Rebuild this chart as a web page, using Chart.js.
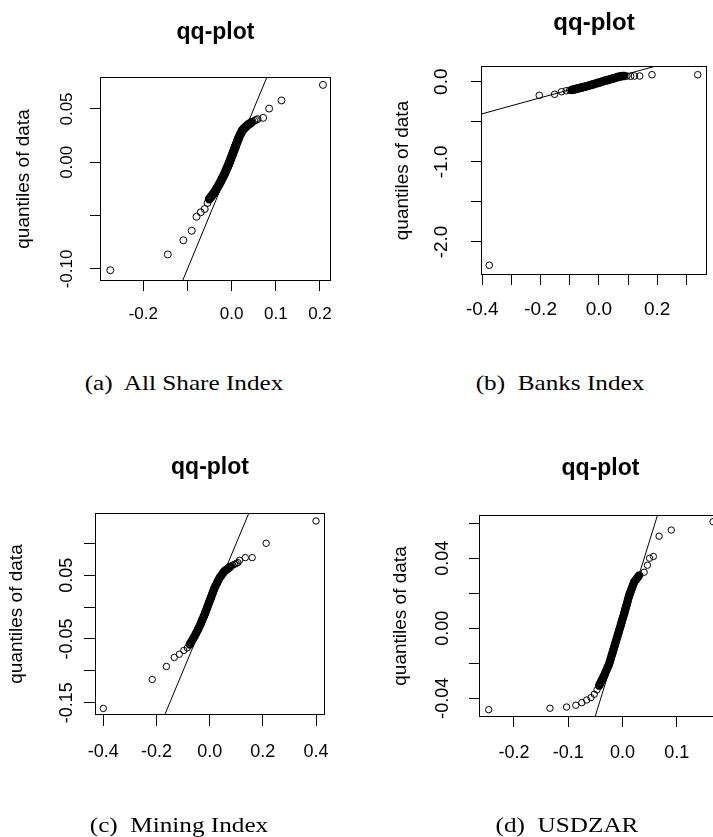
<!doctype html>
<html lang="en">
<head>
  <meta charset="utf-8">
  <title>qq-plots</title>
  <script src="https://cdn.jsdelivr.net/npm/chart.js"></script>
  <style>
    html, body { margin: 0; padding: 0; background: #fff; }
    body { width: 713px; height: 837px; position: relative; overflow: hidden; }
    canvas { position: absolute; }
    .cap {
      position: absolute; width: 300px; text-align: center; white-space: pre;
      font-family: "Liberation Serif", "DejaVu Serif", serif; font-size: 21px; line-height: 24px; color: #000;
      transform: scaleX(1.2); transform-origin: 50% 50%;
    }
  </style>
</head>
<body>

<canvas id="qqA" width="360" height="345" style="left:0px; top:0px;"></canvas>
<canvas id="qqB" width="353" height="345" style="left:360px; top:0px;"></canvas>
<canvas id="qqC" width="360" height="417" style="left:0px; top:420px;"></canvas>
<canvas id="qqD" width="370" height="417" style="left:360px; top:420px;"></canvas>

<div class="cap" style="left:34px; top:371px;">(a)  All Share Index</div>
<div class="cap" style="left:410px; top:371px;">(b)  Banks Index</div>
<div class="cap" style="left:29px; top:813px;">(c)  Mining Index</div>
<div class="cap" style="left:417px; top:813px;">(d)  USDZAR</div>

<script>
  const sansFont = "'Liberation Sans', Arial, sans-serif";

  // reference line y = x (clipped to each plot box)
  const refLine = [-3, 3];

  // (a) All Share Index
  const allShareXTicks = [-0.2, -0.1, 0, 0.1, 0.2];
  const allShareXLabels = ['-0.2', '', '0.0', '0.1', '0.2'];
  const allShareYTicks = [-0.1, -0.05, 0, 0.05];
  const allShareYLabels = ['-0.10', '', '0.00', '0.05'];
  // sparse points in the tails
  const allShareTail = [
    [-0.2747, -0.1012], [-0.1445, -0.0864], [-0.1093, -0.0731], [-0.0903, -0.0642],
    [-0.0795, -0.0510], [-0.0700, -0.0469], [-0.0610, -0.0438], [-0.0545, -0.0380],
    [0.0474, 0.0380], [0.0512, 0.0388], [0.0549, 0.0397], [0.0587, 0.0405],
    [0.0713, 0.0417], [0.0849, 0.0504], [0.1129, 0.0580], [0.2068, 0.0726]
  ];
  // heavily overplotted middle of the distribution
  const allShareCore = [
    [-0.0506, -0.0345], [-0.0484, -0.0333], [-0.0461, -0.0320], [-0.0438, -0.0308], [-0.0416, -0.0296],
    [-0.0393, -0.0283], [-0.0370, -0.0268], [-0.0348, -0.0252], [-0.0325, -0.0237], [-0.0303, -0.0221],
    [-0.0280, -0.0206], [-0.0261, -0.0191], [-0.0242, -0.0176], [-0.0224, -0.0160], [-0.0205, -0.0145], [-0.0186, -0.0130],
    [-0.0167, -0.0114], [-0.0151, -0.0099], [-0.0135, -0.0083], [-0.0119, -0.0068], [-0.0102, -0.0052], [-0.0086, -0.0037], [-0.0070, -0.0021],
    [-0.0054, -0.0006], [-0.0040, 0.0010], [-0.0026, 0.0025], [-0.0012, 0.0041], [0.0003, 0.0056], [0.0017, 0.0072], [0.0031, 0.0087], [0.0045, 0.0103],
    [0.0059, 0.0118], [0.0073, 0.0133], [0.0087, 0.0149], [0.0101, 0.0164], [0.0115, 0.0180], [0.0130, 0.0195], [0.0144, 0.0210], [0.0158, 0.0226],
    [0.0172, 0.0241], [0.0191, 0.0257], [0.0210, 0.0272], [0.0229, 0.0288],
    [0.0248, 0.0303], [0.0276, 0.0315], [0.0305, 0.0326], [0.0333, 0.0338],
    [0.0361, 0.0349], [0.0399, 0.0359], [0.0436, 0.0370]
  ];

  // (b) Banks Index
  const banksXTicks = [-0.4, -0.3, -0.2, -0.1, 0, 0.1, 0.2, 0.3];
  const banksXLabels = ['-0.4', '', '-0.2', '', '0.0', '', '0.2', ''];
  const banksYTicks = [-2, -1.5, -1, -0.5, 0];
  const banksYLabels = ['-2.0', '', '-1.0', '', '0.0'];
  const banksTail = [
    [-0.376, -2.29], [-0.2045, -0.170], [-0.152, -0.157], [-0.128, -0.125], [-0.112, -0.113], [-0.100, -0.106],
    [0.096, 0.071], [0.109, 0.068], [0.122, 0.071], [0.140, 0.071], [0.182, 0.087], [0.339, 0.087]
  ];
  const banksCore = [
    [-0.093, -0.104], [-0.088, -0.099], [-0.083, -0.095], [-0.078, -0.090], [-0.073, -0.085], [-0.068, -0.081],
    [-0.063, -0.076], [-0.058, -0.071], [-0.053, -0.067], [-0.048, -0.062], [-0.043, -0.057], [-0.038, -0.053],
    [-0.033, -0.048], [-0.028, -0.042], [-0.023, -0.037], [-0.018, -0.031], [-0.013, -0.026], [-0.008, -0.020],
    [-0.003, -0.015], [0.002, -0.009], [0.007, -0.004], [0.012, 0.002], [0.017, 0.008],
    [0.022, 0.013], [0.027, 0.018], [0.032, 0.023], [0.037, 0.028], [0.042, 0.034], [0.047, 0.039],
    [0.052, 0.044], [0.057, 0.049], [0.062, 0.055], [0.067, 0.060], [0.072, 0.065], [0.077, 0.069],
    [0.082, 0.071], [0.087, 0.072]
  ];

  // (c) Mining Index
  const miningXTicks = [-0.4, -0.2, 0, 0.2, 0.4];
  const miningXLabels = ['-0.4', '-0.2', '0.0', '0.2', '0.4'];
  const miningYTicks = [-0.15, -0.1, -0.05, 0, 0.05, 0.1];
  const miningYLabels = ['-0.15', '', '-0.05', '', '0.05', ''];
  const miningTail = [
    [-0.400, -0.159], [-0.216, -0.1136], [-0.1625, -0.0932], [-0.133, -0.079], [-0.114, -0.074], [-0.097, -0.068], [-0.084, -0.064],
    [0.0815, 0.0645], [0.0876, 0.0658], [0.0938, 0.0671], [0.0999, 0.0684], [0.1060, 0.0697],
    [0.1125, 0.0733], [0.134, 0.0775], [0.160, 0.0775], [0.2125, 0.100], [0.400, 0.135]
  ];
  const miningCore = [
    [-0.0750, -0.0587], [-0.0713, -0.0561], [-0.0676, -0.0535], [-0.0638, -0.0508], [-0.0601, -0.0482],
    [-0.0564, -0.0456], [-0.0533, -0.0430], [-0.0501, -0.0404], [-0.0470, -0.0378], [-0.0439, -0.0351], [-0.0407, -0.0325],
    [-0.0376, -0.0299], [-0.0349, -0.0273], [-0.0322, -0.0246], [-0.0295, -0.0220], [-0.0269, -0.0194], [-0.0242, -0.0167], [-0.0215, -0.0141],
    [-0.0188, -0.0115], [-0.0165, -0.0089], [-0.0141, -0.0063], [-0.0118, -0.0037], [-0.0094, -0.0011], [-0.0071, 0.0016], [-0.0047, 0.0042], [-0.0024, 0.0068],
    [0.0000, 0.0094], [0.0024, 0.0120], [0.0047, 0.0147], [0.0071, 0.0173], [0.0094, 0.0199], [0.0118, 0.0225], [0.0141, 0.0252], [0.0165, 0.0278],
    [0.0188, 0.0304], [0.0219, 0.0330], [0.0251, 0.0356], [0.0282, 0.0382], [0.0313, 0.0408], [0.0345, 0.0434],
    [0.0376, 0.0460], [0.0414, 0.0481], [0.0451, 0.0502], [0.0489, 0.0524], [0.0526, 0.0545],
    [0.0564, 0.0566], [0.0614, 0.0582], [0.0665, 0.0598], [0.0715, 0.0613], [0.0765, 0.0629]
  ];

  // (d) USDZAR
  const zarXTicks = [-0.2, -0.1, 0, 0.1];
  const zarXLabels = ['-0.2', '-0.1', '0.0', '0.1'];
  const zarYTicks = [-0.04, -0.02, 0, 0.02, 0.04, 0.06];
  const zarYLabels = ['-0.04', '', '0.00', '', '0.04', ''];
  const zarTail = [
    [-0.2466, -0.0465], [-0.1337, -0.0457], [-0.103, -0.045], [-0.086, -0.044], [-0.075, -0.0425],
    [-0.066, -0.041], [-0.058, -0.0396], [-0.052, -0.0377], [-0.047, -0.0352],
    [0.040, 0.032], [0.046, 0.036], [0.050, 0.040], [0.057, 0.041], [0.0675, 0.0526], [0.090, 0.0561], [0.167, 0.0609]
  ];
  const zarCore = [
    [-0.0430, -0.0328], [-0.0415, -0.0318], [-0.0399, -0.0309], [-0.0384, -0.0299], [-0.0369, -0.0290], [-0.0353, -0.0280],
    [-0.0338, -0.0271], [-0.0325, -0.0261], [-0.0312, -0.0252], [-0.0299, -0.0242], [-0.0285, -0.0233], [-0.0272, -0.0223], [-0.0259, -0.0214],
    [-0.0246, -0.0204], [-0.0236, -0.0193], [-0.0225, -0.0183], [-0.0215, -0.0172], [-0.0205, -0.0162], [-0.0194, -0.0151], [-0.0184, -0.0141], [-0.0174, -0.0130], [-0.0163, -0.0120],
    [-0.0153, -0.0109], [-0.0143, -0.0098], [-0.0133, -0.0088], [-0.0123, -0.0077], [-0.0112, -0.0066], [-0.0102, -0.0056], [-0.0092, -0.0045], [-0.0082, -0.0034], [-0.0071, -0.0024],
    [-0.0061, -0.0013], [-0.0051, -0.0002], [-0.0041, 0.0008], [-0.0030, 0.0019], [-0.0020, 0.0030], [-0.0010, 0.0040], [0.0000, 0.0051], [0.0010, 0.0062], [0.0021, 0.0072],
    [0.0031, 0.0083], [0.0040, 0.0093], [0.0049, 0.0104], [0.0059, 0.0114], [0.0068, 0.0125], [0.0077, 0.0135], [0.0086, 0.0145], [0.0095, 0.0156], [0.0105, 0.0166], [0.0114, 0.0177],
    [0.0123, 0.0187], [0.0135, 0.0197], [0.0146, 0.0206], [0.0158, 0.0216], [0.0170, 0.0226], [0.0181, 0.0235], [0.0193, 0.0245], [0.0204, 0.0254],
    [0.0216, 0.0264], [0.0234, 0.0272], [0.0253, 0.0279], [0.0271, 0.0287], [0.0290, 0.0294], [0.0308, 0.0302]
  ];

  // layout of each panel, in canvas pixels (box = the plot frame)
  const panels = [
    { id: 'qqA', tail: allShareTail, core: allShareCore, xt: allShareXTicks, xl: allShareXLabels, yt: allShareYTicks, yl: allShareYLabels,
      xr: [-0.298, 0.225], yr: [-0.1113, 0.080], w: 360, h: 345, box: { l: 100, t: 77, r: 331, b: 281 },
      titleY: 33, yTitleX: 24, yLabelGap: 32.3, xLabelY: 314, tickFont: 17, titleFont: 23, axisFont: 19, tickLen: 10, rad: 3.5 },
    { id: 'qqB', tail: banksTail, core: banksCore, xt: banksXTicks, xl: banksXLabels, yt: banksYTicks, yl: banksYLabels,
      xr: [-0.4044, 0.3708], yr: [-2.412, 0.196], w: 353, h: 345, box: { l: 121, t: 66, r: 351, b: 275 },
      titleY: 23, yTitleX: 42.5, yLabelGap: 39.3, xLabelY: 310, tickFont: 19, titleFont: 24, axisFont: 19, tickLen: 10, rad: 3.3 },
    { id: 'qqC', tail: miningTail, core: miningCore, xt: miningXTicks, xl: miningXLabels, yt: miningYTicks, yl: miningYLabels,
      xr: [-0.4312, 0.4338], yr: [-0.1693, 0.1475], w: 360, h: 417, box: { l: 95, t: 93, r: 325, b: 295 },
      titleY: 48, yTitleX: 17, yLabelGap: 27.5, xLabelY: 331.7, tickFont: 18, titleFont: 23, axisFont: 19, tickLen: 11, rad: 3.2 },
    { id: 'qqD', tail: zarTail, core: zarCore, xt: zarXTicks, xl: zarXLabels, yt: zarYTicks, yl: zarYLabels,
      xr: [-0.2645, 0.1835], yr: [-0.0507, 0.0647], w: 370, h: 417, box: { l: 119, t: 95, r: 362, b: 297 },
      titleY: 49, yTitleX: 40.7, yLabelGap: 36, xLabelY: 332.7, tickFont: 18, titleFont: 23, axisFont: 19, tickLen: 10, rad: 3.2 }
  ];

  const measureCtx = document.createElement('canvas').getContext('2d');
  function textWidth(str, size) {
    measureCtx.font = size + 'px ' + sansFont;
    return measureCtx.measureText(str).width;
  }

  // R style frame round the plot region
  const boxFrame = {
    id: 'boxFrame',
    afterDraw(chart) {
      const { ctx, chartArea: a } = chart;
      ctx.save();
      ctx.strokeStyle = '#000';
      ctx.lineWidth = 1;
      ctx.strokeRect(Math.round(a.left) + 0.5, Math.round(a.top) + 0.5,
        Math.round(a.right - a.left) - 1, Math.round(a.bottom - a.top) - 1);
      ctx.restore();
    }
  };

  Chart.defaults.animation = false;

  function toXY(pts) {
    return pts.map(([x, y]) => ({ x: x, y: y }));
  }

  function makeQQ(p) {
    const titleLh = p.titleFont * 1.2;
    const tickLh = p.tickFont * 1.2;
    const axisLh = p.axisFont * 1.2;
    const widest = Math.max(...p.yl.map(s => textWidth(s, p.tickFont)));

    new Chart(document.getElementById(p.id), {
      type: 'scatter',
      data: {
        datasets: [
          {
            data: toXY(p.tail),
            pointRadius: p.rad,
            pointBorderWidth: 1,
            borderColor: '#000',
            backgroundColor: 'rgba(0,0,0,0)'
          },
          {
            // hundreds of overlapping circles: drawn heavier so the band reads solid
            data: toXY(p.core),
            pointRadius: p.rad,
            pointBorderWidth: 2,
            borderColor: '#000',
            backgroundColor: 'rgba(0,0,0,0)'
          },
          {
            data: refLine.map(v => ({ x: v, y: v })),
            showLine: true,
            pointRadius: 0,
            borderColor: '#000',
            borderWidth: 1
          }
        ]
      },
      options: {
        responsive: false,
        events: [],
        layout: { padding: { left: 0, top: 0, right: p.w - p.box.r, bottom: 0 } },
        plugins: {
          legend: { display: false },
          tooltip: { enabled: false },
          title: {
            display: true,
            text: 'qq-plot',
            fullSize: false,
            color: '#000',
            font: { family: sansFont, size: p.titleFont, weight: 'bold' },
            padding: { top: p.titleY - titleLh / 2, bottom: p.box.t - p.titleY - titleLh / 2 }
          }
        },
        scales: {
          x: {
            type: 'linear',
            position: 'bottom',
            min: p.xr[0],
            max: p.xr[1],
            afterBuildTicks: s => { s.ticks = p.xt.map(v => ({ value: v })); },
            afterFit: s => { s.height = p.h - p.box.b; },
            ticks: {
              autoSkip: false,
              maxRotation: 0,
              minRotation: 0,
              color: '#000',
              font: { family: sansFont, size: p.tickFont },
              padding: p.xLabelY - p.box.b - p.tickLen - tickLh / 2,
              callback: (v, i) => p.xl[i]
            },
            grid: { drawOnChartArea: false, drawTicks: true, tickLength: p.tickLen, color: '#000', lineWidth: 1 },
            border: { display: false }
          },
          y: {
            type: 'linear',
            position: 'left',
            min: p.yr[0],
            max: p.yr[1],
            afterBuildTicks: s => { s.ticks = p.yt.map(v => ({ value: v })); },
            afterFit: s => { s.width = p.box.l; },
            ticks: {
              autoSkip: false,
              minRotation: 90,
              maxRotation: 90,
              crossAlign: 'center',
              color: '#000',
              font: { family: sansFont, size: p.tickFont },
              padding: p.yLabelGap - p.tickLen - widest / 2,
              callback: (v, i) => p.yl[i]
            },
            grid: { drawOnChartArea: false, drawTicks: true, tickLength: p.tickLen, color: '#000', lineWidth: 1 },
            border: { display: false },
            title: {
              display: true,
              text: 'quantiles of data',
              color: '#000',
              font: { family: sansFont, size: p.axisFont },
              padding: { top: p.yTitleX - axisLh / 2, bottom: 0 }
            }
          }
        }
      },
      plugins: [boxFrame]
    });
  }

  panels.forEach(makeQQ);
</script>
</body>
</html>
